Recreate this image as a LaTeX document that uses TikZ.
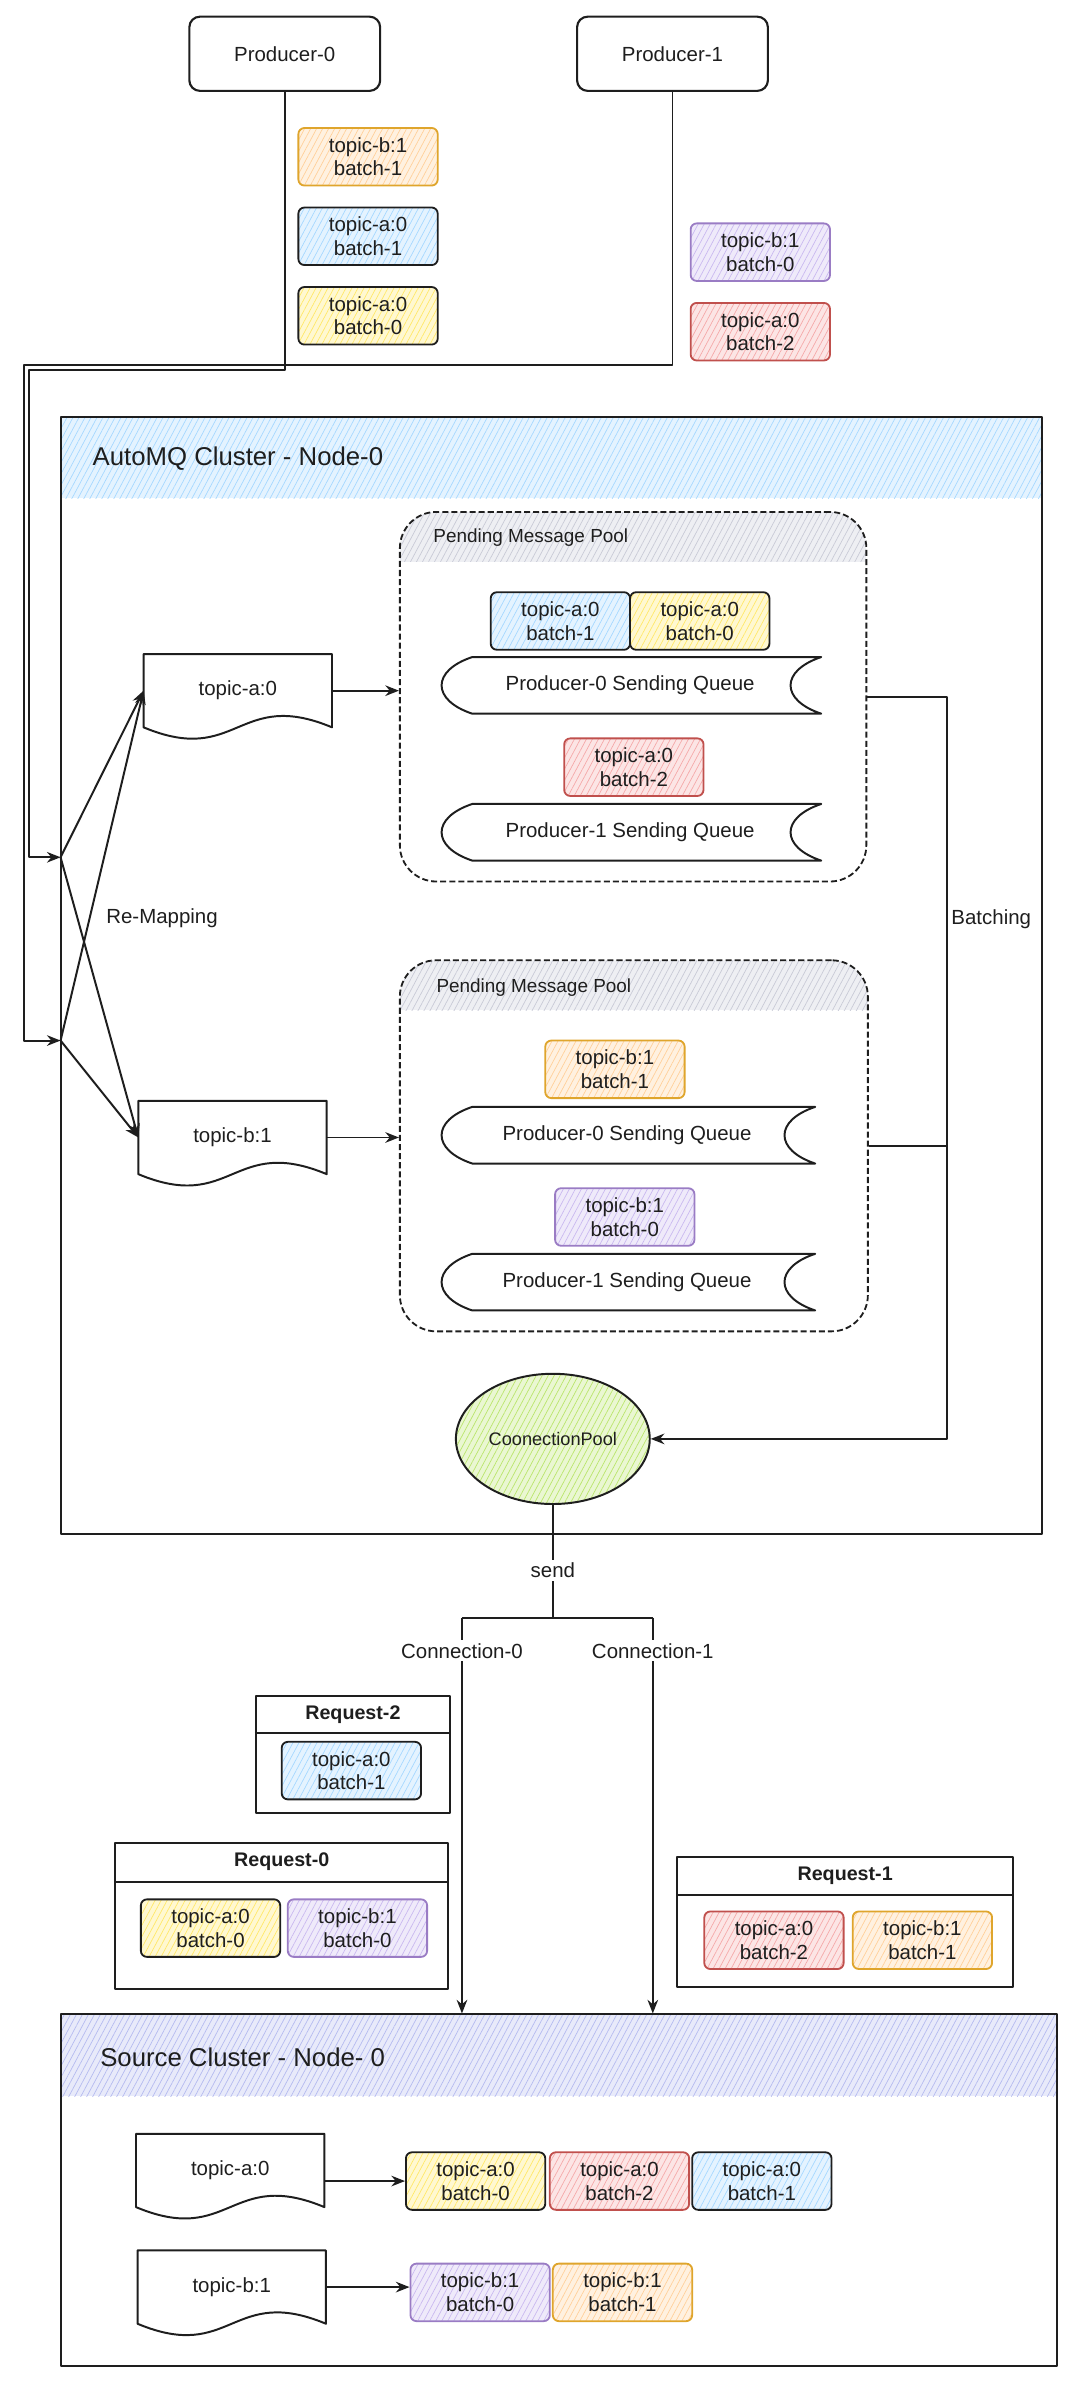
\documentclass[tikz,border=0pt]{standalone}
\usepackage{fontspec}
\setmainfont{Liberation Sans}
\usetikzlibrary{calc,arrows.meta,patterns.meta,shapes.geometric}
\definecolor{ink}{HTML}{1E1E1E}
\definecolor{hblue}{HTML}{A5D8FF}
\definecolor{hyellow}{HTML}{FFE866}
\definecolor{hred}{HTML}{F5A8A8}
\definecolor{sred}{HTML}{C0504D}
\definecolor{horange}{HTML}{FFCF99}
\definecolor{sorange}{HTML}{DFA52C}
\definecolor{hpurple}{HTML}{C9B8F0}
\definecolor{spurple}{HTML}{9A7CC4}
\definecolor{hgray}{HTML}{C8CAD6}
\definecolor{hlav}{HTML}{B4BAF0}
\definecolor{hgreen}{HTML}{B9E56A}

\tikzset{
  lbl/.style={font=\fontsize{13.5}{15.5}\selectfont, inner sep=0pt, text=ink},
  hatch/.style={preaction={fill=#1!30}, pattern={Lines[angle=62,distance=3.5pt,line width=0.45pt]}, pattern color=#1},
  wire/.style={draw=ink, line width=1.3pt},
  arr/.style={wire, -{Stealth[length=9pt,width=7pt]}},
  prod/.style={lbl, draw=ink, line width=1.4pt, rounded corners=7pt, minimum width=126pt, minimum height=49pt},
  batch/.style args={#1/#2}{lbl, align=center, draw=#1, line width=1.2pt, rounded corners=4pt, hatch=#2, minimum width=92pt, minimum height=38pt},
  ba0/.style={batch=ink/hyellow},
  ba1/.style={batch=ink/hblue},
  ba2/.style={batch=sred/hred},
  bb0/.style={batch=spurple/hpurple},
  bb1/.style={batch=sorange/horange},
  doc/.style={lbl, minimum width=124pt, minimum height=48pt},
  queue/.style={lbl, minimum height=37pt},
  cluster/.style={draw=ink, line width=1.3pt, path picture={\fill[hatch=#1] (path picture bounding box.north west) rectangle ([yshift=-54pt]path picture bounding box.north east);}},
  pool/.style={draw=ink, line width=1.2pt, dash pattern=on 4pt off 2pt, rounded corners=24pt, path picture={\fill[sharp corners, hatch=hgray] (path picture bounding box.north west) rectangle ([yshift=-33pt]path picture bounding box.north east);}},
  ctitle/.style={lbl, font=\fontsize{17}{20}\selectfont, anchor=west},
  ptitle/.style={lbl, font=\fontsize{12.5}{15}\selectfont, anchor=west},
  reqbox/.style={draw=ink, line width=1.3pt},
  reqtitle/.style={lbl, font=\fontsize{13}{15}\selectfont\bfseries},
  tag/.style={lbl, fill=white, inner sep=2pt}
}
\newcommand{\docline}[1]{\draw[wire] (#1.south west) -- (#1.north west) -- (#1.north east) -- (#1.south east) .. controls ($(#1.south)+(0,-26)$) and ($(#1.south)+(0,26)$) .. (#1.south west) -- cycle;}
\newcommand{\queueline}[1]{\draw[wire] ($(#1.north west)+(22,0)$) -- (#1.north east) .. controls +(-27,9) and +(-27,-9) .. (#1.south east) -- ($(#1.south west)+(22,0)$) .. controls +(-27,-9) and +(-27,9) .. ($(#1.north west)+(22,0)$) -- cycle;}

\begin{document}
\begin{tikzpicture}[x=1pt, y=-1pt, line join=round]
\useasboundingbox (0,0) rectangle (713,1574);
\node[cluster=hblue, minimum width=648pt, minimum height=738pt] (amq) at (364,644) {};
\node[ctitle] (amqt) at (61,303) {AutoMQ Cluster - Node-0};
\node[cluster=hlav, minimum width=658pt, minimum height=232pt] (src) at (369,1446) {};
\node[ctitle] (srct) at (66,1358) {Source Cluster - Node- 0};

\node[prod] (p0) at (188,35.5) {Producer-0};
\node[prod] (p1) at (444,35.5) {Producer-1};
\node[bb1] (pb1) at (243,103.5) {topic-b:1\\batch-1};
\node[ba1] (pa1) at (243,156) {topic-a:0\\batch-1};
\node[ba0] (pa0) at (243,208.5) {topic-a:0\\batch-0};
\node[bb0] (qb0) at (502,166.5) {topic-b:1\\batch-0};
\node[ba2] (qa2) at (502,219) {topic-a:0\\batch-2};

\node[pool, minimum width=308pt, minimum height=244pt] (pool1) at (418,460) {};
\node[ptitle] (pool1t) at (286,355) {Pending Message Pool};
\node[ba1] (m1a1) at (370,410) {topic-a:0\\batch-1};
\node[ba0] (m1a0) at (462,410) {topic-a:0\\batch-0};
\node[queue, minimum width=252pt] (q10) at (416,452.5) {Producer-0 Sending Queue};
\node[ba2] (m1a2) at (418.5,506.5) {topic-a:0\\batch-2};
\node[queue, minimum width=252pt] (q11) at (416,549.5) {Producer-1 Sending Queue};

\node[pool, minimum width=309pt, minimum height=245pt] (pool2) at (418.5,756.5) {};
\node[ptitle] (pool2t) at (288,652) {Pending Message Pool};
\node[bb1] (m2b1) at (406,706) {topic-b:1\\batch-1};
\node[queue, minimum width=248pt] (q20) at (414,749.5) {Producer-0 Sending Queue};
\node[bb0] (m2b0) at (412.5,803.5) {topic-b:1\\batch-0};
\node[queue, minimum width=248pt] (q21) at (414,846.5) {Producer-1 Sending Queue};
\queueline{q10}
\queueline{q11}
\queueline{q20}
\queueline{q21}

\node[doc] (ta) at (157,456) {topic-a:0};
\node[doc] (tb) at (153.5,751) {topic-b:1};
\node[doc] (ta2) at (152,1433) {topic-a:0};
\node[doc] (tb2) at (153,1510) {topic-b:1};
\docline{ta}
\docline{tb}
\docline{ta2}
\docline{tb2}

\node[ellipse, draw=ink, line width=1.3pt, hatch=hgreen, minimum width=128pt, minimum height=86pt, lbl, font=\fontsize{12}{14}\selectfont] (cp) at (365,950) {CoonectionPool};

\node[reqbox, minimum width=128pt, minimum height=77pt] (req2) at (233,1158.5) {};
\node[reqtitle] (req2t) at ($(req2.north)+(0,12.5)$) {Request-2};
\draw[wire] ($(req2.north west)+(0,25)$) -- ($(req2.north east)+(0,25)$);
\node[ba1] (r2a1) at (232,1169) {topic-a:0\\batch-1};
\node[reqbox, minimum width=220pt, minimum height=96pt] (req0) at (186,1265) {};
\node[reqtitle] (req0t) at ($(req0.north)+(0,13)$) {Request-0};
\draw[wire] ($(req0.north west)+(0,26)$) -- ($(req0.north east)+(0,26)$);
\node[ba0] (r0a0) at (139,1273) {topic-a:0\\batch-0};
\node[bb0] (r0b0) at (236,1273) {topic-b:1\\batch-0};
\node[reqbox, minimum width=222pt, minimum height=86pt] (req1) at (558,1269) {};
\node[reqtitle] (req1t) at ($(req1.north)+(0,13)$) {Request-1};
\draw[wire] ($(req1.north west)+(0,26)$) -- ($(req1.north east)+(0,26)$);
\node[ba2] (r1a2) at (511,1281) {topic-a:0\\batch-2};
\node[bb1] (r1b1) at (609,1281) {topic-b:1\\batch-1};

\node[ba0] (sa0) at (314,1440) {topic-a:0\\batch-0};
\node[ba2] (sa2) at (409,1440) {topic-a:0\\batch-2};
\node[ba1] (sa1) at (503,1440) {topic-a:0\\batch-1};
\node[bb0] (sb0) at (317,1513.5) {topic-b:1\\batch-0};
\node[bb1] (sb1) at (411,1513.5) {topic-b:1\\batch-1};

\coordinate (in1) at (40,566);
\coordinate (in2) at (40,687);
\coordinate (bat) at (625,950);
\coordinate (split) at (365,1068);
\coordinate (c0) at (305,1068);
\coordinate (c1) at (431,1068);
\draw[arr] (p0.south) |- (19,244) |- (in1);
\draw[arr] (p1.south) |- (16,241) |- (in2);
\draw[arr] (in1) -- (ta.west);
\draw[arr] (in2) -- (ta.west);
\draw[arr] (in1) -- (tb.west);
\draw[arr] (in2) -- (tb.west);
\draw[arr] (ta.east) -- (ta.east -| pool1.west);
\draw[arr] (tb.east) -- (tb.east -| pool2.west);
\draw[arr] (pool1.east) -| (bat) -- (cp.east);
\draw[wire] (pool2.east) -- (pool2.east -| bat);
\draw[wire] (cp.south) -- (split);
\draw[wire] (c0) -- (c1);
\draw[arr] (c0) -- (c0 |- src.north);
\draw[arr] (c1) -- (c1 |- src.north);
\draw[arr] (ta2.east |- sa0.west) -- (sa0.west);
\draw[arr] (tb2.east) -- (tb2.east -| sb0.west);
\node[lbl, anchor=west] (remap) at (70,606) {Re-Mapping};
\node[lbl, anchor=west] (batching) at (628,607) {Batching};
\node[tag] (send) at (365,1037) {send};
\node[tag] (conn0) at (305,1090) {Connection-0};
\node[tag] (conn1) at (431,1090) {Connection-1};
\end{tikzpicture}
\end{document}
